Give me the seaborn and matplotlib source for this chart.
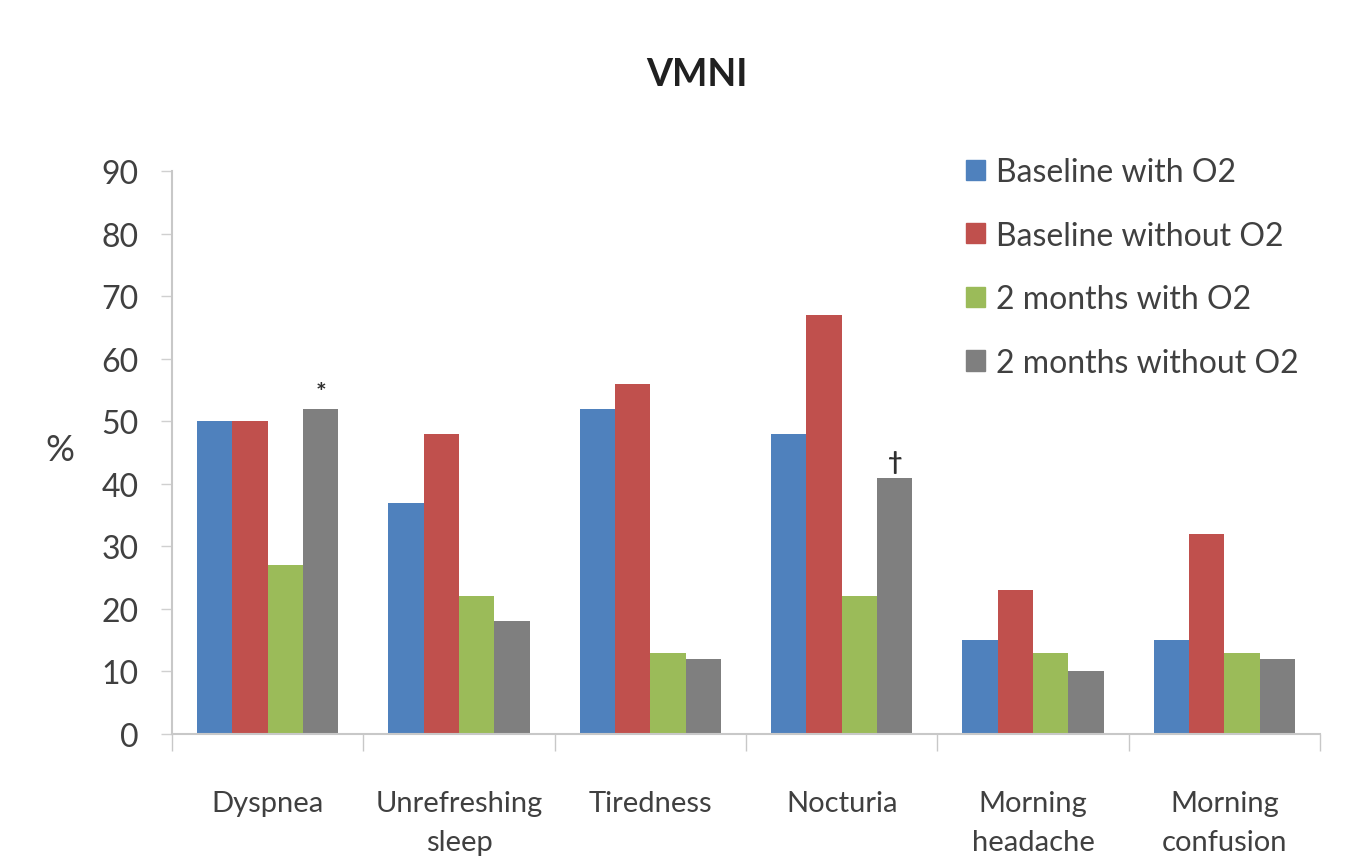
import matplotlib
matplotlib.use("Agg")
import matplotlib.pyplot as plt
import seaborn as sns
import pandas as pd
import numpy as np
from matplotlib.ticker import FixedLocator

categories = ["Dyspnea", "Unrefreshing\nsleep", "Tiredness", "Nocturia",
              "Morning\nheadache", "Morning\nconfusion"]
series = ["Baseline with O2", "Baseline without O2", "2 months with O2", "2 months without O2"]
baseline_with_o2 = [50, 37, 52, 48, 15, 15]
baseline_without_o2 = [50, 48, 56, 67, 23, 32]
months2_with_o2 = [27, 22, 13, 22, 13, 13]
months2_without_o2 = [52, 18, 12, 41, 10, 12]
yticks = [0, 10, 20, 30, 40, 50, 60, 70, 80, 90]
marks = {("Dyspnea", "2 months without O2"): "*", ("Nocturia", "2 months without O2"): "†"}

colors = ["#4F81BD", "#C0504D", "#9BBB59", "#7F7F7F"]

rows = []
for s, vals in zip(series, [baseline_with_o2, baseline_without_o2, months2_with_o2, months2_without_o2]):
    for c, v in zip(categories, vals):
        rows.append({"cat": c, "series": s, "value": v})
df = pd.DataFrame(rows)

sns.set_theme(style="white")
plt.rcParams["font.family"] = ["Lato", "DejaVu Sans"]
txt = "#404040"

fig = plt.figure(figsize=(13.59, 8.62), dpi=100)
ax = fig.add_axes([172/1359, 1-735/862, (1320-172)/1359, (735-172)/862])

sns.barplot(data=df, x="cat", y="value", hue="series", hue_order=series, order=categories,
            palette=colors, width=0.74, gap=0, saturation=1, ax=ax, linewidth=0, legend=True)

ax.set_ylim(0, 90)
ax.set_xlim(-0.5, 5.5)
ax.yaxis.set_major_locator(FixedLocator(yticks))
ax.set_yticklabels([str(t) for t in yticks], fontsize=23, color=txt)
ax.tick_params(axis="y", which="major", length=8, width=1, color="#d0d0d0", direction="out", pad=16, left=True)
ax.tick_params(axis="x", which="major", length=0, pad=40, labelsize=21, labelcolor=txt)
for lab in ax.get_xticklabels():
    lab.set_linespacing(1.65)
ax.xaxis.set_minor_locator(FixedLocator(np.arange(-0.5, 6.0, 1.0)))
ax.tick_params(axis="x", which="minor", length=12, width=1, color="#c8c8c8", direction="out", bottom=True)
ax.set_xlabel("")
ax.set_ylabel("%", fontsize=26, color=txt, rotation=0, va="center")
ax.yaxis.set_label_coords(-0.098, 0.505)

for sp in ["top", "right"]:
    ax.spines[sp].set_visible(False)
for sp in ["left", "bottom"]:
    ax.spines[sp].set_color("#c8c8c8")
    ax.spines[sp].set_linewidth(1.5)

# significance marks
containers = ax.containers
for si, s in enumerate(series):
    for ci, c in enumerate(categories):
        key = (c.replace("\n", " "), s)
        if key in marks:
            bar = containers[si][ci]
            ax.text(bar.get_x() + bar.get_width()/2, bar.get_height() + 2.6, marks[key],
                    ha="center", va="center", fontsize=18, color="#303030", fontweight="bold")

leg = ax.get_legend()
if leg is not None:
    leg.remove()
handles = [plt.Rectangle((0, 0), 1, 1, color=col) for col in colors]
fig.legend(handles, series, loc="upper left", bbox_to_anchor=(966/1359, 1-158/862),
           frameon=False, fontsize=23, handlelength=0.6, handleheight=0.6,
           handletextpad=0.35, labelspacing=1.05, labelcolor=txt, borderaxespad=0, borderpad=0)

fig.text(697/1359, 1-75/862, "VMNI", ha="center", va="center", fontsize=27, color="#202020", fontweight="bold")

fig.savefig("out.png", dpi=100, facecolor="white")
